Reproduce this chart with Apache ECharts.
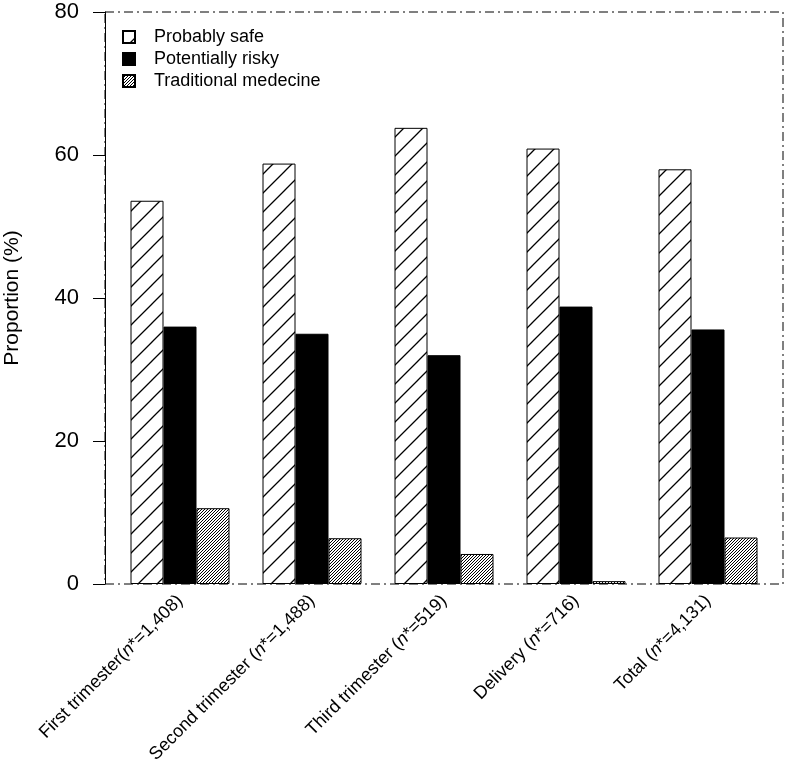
<!DOCTYPE html>
<html>
<head>
<meta charset="utf-8">
<script src="https://cdn.jsdelivr.net/npm/echarts@6/dist/echarts.min.js"></script>
<style>
html,body{margin:0;padding:0;background:#fff;}
#c{width:786px;height:769px;}
</style>
</head>
<body>
<div id="c"></div>
<script>
const categories = ['First trimester(n*=1,408)', 'Second trimester (n*=1,488)', 'Third trimester (n*=519)', 'Delivery (n*=716)', 'Total (n*=4,131)'];
const probablySafe = [53.6, 58.8, 63.8, 60.9, 58.0];
const potentiallyRisky = [36.0, 35.0, 32.0, 38.8, 35.6];
const traditionalMedicine = [10.6, 6.4, 4.2, 0.4, 6.5];
const yTicks = [0, 20, 40, 60, 80];

function hatch(s, lw) {
  const c = document.createElement('canvas');
  c.width = s; c.height = s;
  const g = c.getContext('2d');
  g.fillStyle = '#fff';
  g.fillRect(0, 0, s, s);
  g.strokeStyle = '#000';
  g.lineWidth = lw;
  g.beginPath();
  g.moveTo(0, s); g.lineTo(s, 0);
  g.moveTo(-2, 2); g.lineTo(2, -2);
  g.moveTo(s - 2, s + 2); g.lineTo(s + 2, s - 2);
  g.stroke();
  return c;
}
const safePattern = { image: hatch(19, 1.3), repeat: 'repeat' };
const tradPattern = { image: hatch(3, 1), repeat: 'repeat' };

const FONT = '"Liberation Sans", Arial, Helvetica, sans-serif';
const chart = echarts.init(document.getElementById('c'), null, { renderer: 'canvas' });

function labelFmt(v) {
  const i = v.indexOf('n*');
  if (i < 0) return '{a|' + v + '}';
  return '{a|' + v.slice(0, i) + '}{i|n}{a|' + v.slice(i + 1) + '}';
}

const barStyle = { borderColor: '#000', borderWidth: 1 };

chart.setOption({
  animation: false,
  backgroundColor: '#fff',
  grid: [
    { left: 114, right: 12, top: 12, bottom: 185, containLabel: false, outerBoundsMode: 'none' },
    { left: 105, right: 3, top: 12, bottom: 185, outerBoundsMode: 'none', show: true, borderColor: '#000', borderWidth: 1, borderType: [9, 4, 2, 4], backgroundColor: 'transparent', z: 0 }
  ],
  legend: {
    orient: 'vertical',
    left: 117,
    top: 23,
    itemWidth: 12,
    itemHeight: 12,
    itemGap: 4,
    icon: 'rect',
    textStyle: { fontFamily: FONT, fontSize: 18, color: '#000', padding: [0, 0, 0, 14], lineHeight: 18 },
    data: ['Probably safe', 'Potentially risky', 'Traditional medecine']
  },
  xAxis: [
    {
      type: 'category', gridIndex: 0, data: categories,
      axisLine: { show: false }, axisTick: { show: false },
      axisLabel: {
        rotate: 45, margin: 14, interval: 0, formatter: labelFmt,
        rich: {
          a: { fontFamily: FONT, fontSize: 18, color: '#000' },
          i: { fontFamily: FONT, fontSize: 18, color: '#000', fontStyle: 'italic' }
        }
      }
    },
    { type: 'value', gridIndex: 1, show: false, min: 0, max: 1 }
  ],
  yAxis: [
    {
      type: 'value', gridIndex: 0, min: yTicks[0], max: yTicks[yTicks.length - 1], interval: 20,
      offset: 9,
      name: 'Proportion (%)', nameLocation: 'middle', nameGap: 82,
      nameTextStyle: { fontFamily: FONT, fontSize: 21, color: '#000' },
      axisLine: { show: true, lineStyle: { color: '#000', width: 1 } },
      axisTick: { show: true, length: 12, lineStyle: { color: '#000' } },
      axisLabel: { fontFamily: FONT, fontSize: 22, color: '#000', margin: 26 },
      splitLine: { show: false }
    },
    { type: 'value', gridIndex: 1, show: false, min: 0, max: 1 }
  ],
  series: [
    { name: 'Probably safe', type: 'bar', data: probablySafe, barWidth: 33, barGap: '0%', itemStyle: Object.assign({ color: safePattern }, barStyle), z: 3 },
    { name: 'Potentially risky', type: 'bar', data: potentiallyRisky, barWidth: 33, barGap: '0%', itemStyle: Object.assign({ color: '#000' }, barStyle), z: 3 },
    { name: 'Traditional medecine', type: 'bar', data: traditionalMedicine, barWidth: 33, barGap: '0%', itemStyle: Object.assign({ color: tradPattern }, barStyle), z: 3 }
  ]
});
</script>
</body>
</html>
